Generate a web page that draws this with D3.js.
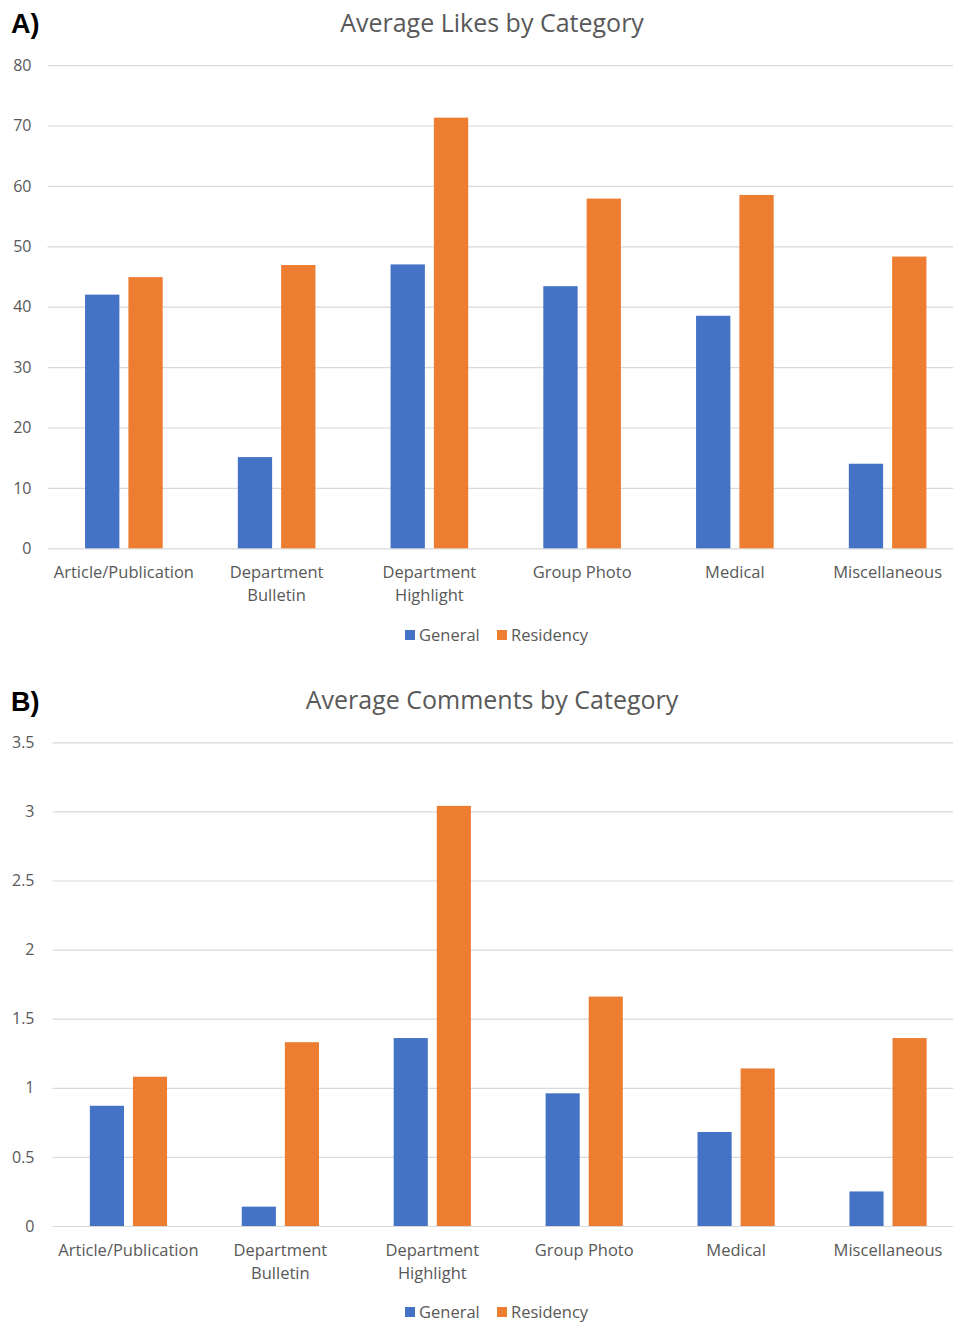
<!DOCTYPE html>
<html>
<head>
<meta charset="utf-8">
<script src="https://cdn.jsdelivr.net/npm/d3@7"></script>
<style>
  html, body { margin: 0; padding: 0; background: #fff; }
  svg { display: block; }
  text { font-family: "Open Sans", "Noto Sans", sans-serif; }
</style>
</head>
<body>
<svg id="chart" width="953" height="1322"></svg>
<script>
// ---- Data ----
const categories = ["Article/Publication", "Department\nBulletin", "Department\nHighlight", "Group Photo", "Medical", "Miscellaneous"];
const seriesNames = ["General", "Residency"];
const likesGeneral = [42.0, 15.1, 47.0, 43.4, 38.5, 14.0];
const likesResidency = [44.9, 46.9, 71.3, 57.9, 58.5, 48.3];
const commentsGeneral = [0.87, 0.14, 1.36, 0.96, 0.68, 0.25];
const commentsResidency = [1.08, 1.33, 3.04, 1.66, 1.14, 1.36];
const likesTicks = [0, 10, 20, 30, 40, 50, 60, 70, 80];
const commentsTicks = [0, 0.5, 1, 1.5, 2, 2.5, 3, 3.5];
const likesTickLabels = ["0", "10", "20", "30", "40", "50", "60", "70", "80"];
const commentsTickLabels = ["0", "0.5", "1", "1.5", "2", "2.5", "3", "3.5"];

const colors = ["#4472C4", "#ED7D31"];
const svg = d3.select("#chart");

function drawChart(cfg) {
  const g = svg.append("g");
  const x = d3.scaleBand().domain(categories).range([cfg.left, cfg.right]);
  const y = d3.scaleLinear().domain([0, cfg.max]).range([cfg.bottom, cfg.top]);

  // panel letter
  g.append("text").attr("x", 11).attr("y", cfg.letterY)
    .attr("font-size", 27).attr("font-weight", "bold").attr("fill", "#000")
    .style("font-family", "'Liberation Sans', Arial, sans-serif")
    .text(cfg.letter);

  // title
  g.append("text").attr("x", cfg.titleX).attr("y", cfg.titleY)
    .attr("text-anchor", "middle").attr("font-size", 25).attr("fill", "#595959")
    .text(cfg.title);

  // gridlines + y tick labels
  const yAxis = d3.axisLeft(y).tickValues(cfg.ticks)
    .tickSize(-(cfg.right - cfg.left)).tickPadding(cfg.tickPad)
    .tickFormat((d, i) => cfg.tickLabels[i]);
  const ya = g.append("g").attr("transform", `translate(${cfg.left},0)`).call(yAxis);
  ya.select(".domain").remove();
  ya.selectAll(".tick line").attr("stroke", "#d9d9d9").attr("stroke-width", 1.2);
  ya.selectAll(".tick text").attr("fill", "#595959").attr("font-size", 16)
    .style("font-family", "'Open Sans', sans-serif");

  // bars
  const bw = x.bandwidth() * 0.2246;
  const gap = x.bandwidth() * 0.059;
  const series = [cfg.general, cfg.residency];
  series.forEach((vals, si) => {
    g.append("g").selectAll("rect").data(vals).join("rect")
      .attr("x", (d, i) => {
        const c = x(categories[i]) + x.bandwidth() / 2;
        return si === 0 ? c - gap / 2 - bw : c + gap / 2;
      })
      .attr("y", d => y(d))
      .attr("width", bw)
      .attr("height", d => y(0) - y(d))
      .attr("fill", colors[si]);
  });

  // x axis category labels
  const xAxis = d3.axisBottom(x).tickSize(0).tickPadding(0).tickFormat("");
  const xa = g.append("g").attr("transform", `translate(0,${cfg.bottom})`).call(xAxis);
  xa.select(".domain").remove();
  categories.forEach(c => {
    const lines = c.split("\n");
    const t = g.append("text").attr("text-anchor", "middle")
      .attr("x", x(c) + x.bandwidth() / 2).attr("y", cfg.bottom + 30)
      .attr("font-size", 16.5).attr("fill", "#595959");
    lines.forEach((l, i) => {
      t.append("tspan").attr("x", x(c) + x.bandwidth() / 2).attr("dy", i === 0 ? 0 : 22.5).text(l);
    });
  });

  // legend
  const lg = g.append("g").attr("transform", `translate(0,${cfg.legendY})`);
  const items = [{name: seriesNames[0], sx: 405, tx: 419}, {name: seriesNames[1], sx: 497, tx: 511}];
  items.forEach((it, i) => {
    lg.append("rect").attr("x", it.sx).attr("y", -5).attr("width", 10).attr("height", 10).attr("fill", colors[i]);
    lg.append("text").attr("x", it.tx).attr("y", 6).attr("font-size", 16.5).attr("fill", "#595959").text(it.name);
  });
}

drawChart({
  letter: "A)", letterY: 33, title: "Average Likes by Category", titleX: 492, titleY: 32,
  left: 47.5, right: 964, top: 65.1, bottom: 548.3, max: 80,
  ticks: likesTicks, tickLabels: likesTickLabels, tickPad: 16,
  general: likesGeneral, residency: likesResidency, legendY: 635
});
drawChart({
  letter: "B)", letterY: 711, title: "Average Comments by Category", titleX: 492, titleY: 709,
  left: 52.5, right: 964, top: 742.3, bottom: 1226, max: 3.5,
  ticks: commentsTicks, tickLabels: commentsTickLabels, tickPad: 18,
  general: commentsGeneral, residency: commentsResidency, legendY: 1312
});
</script>
</body>
</html>
